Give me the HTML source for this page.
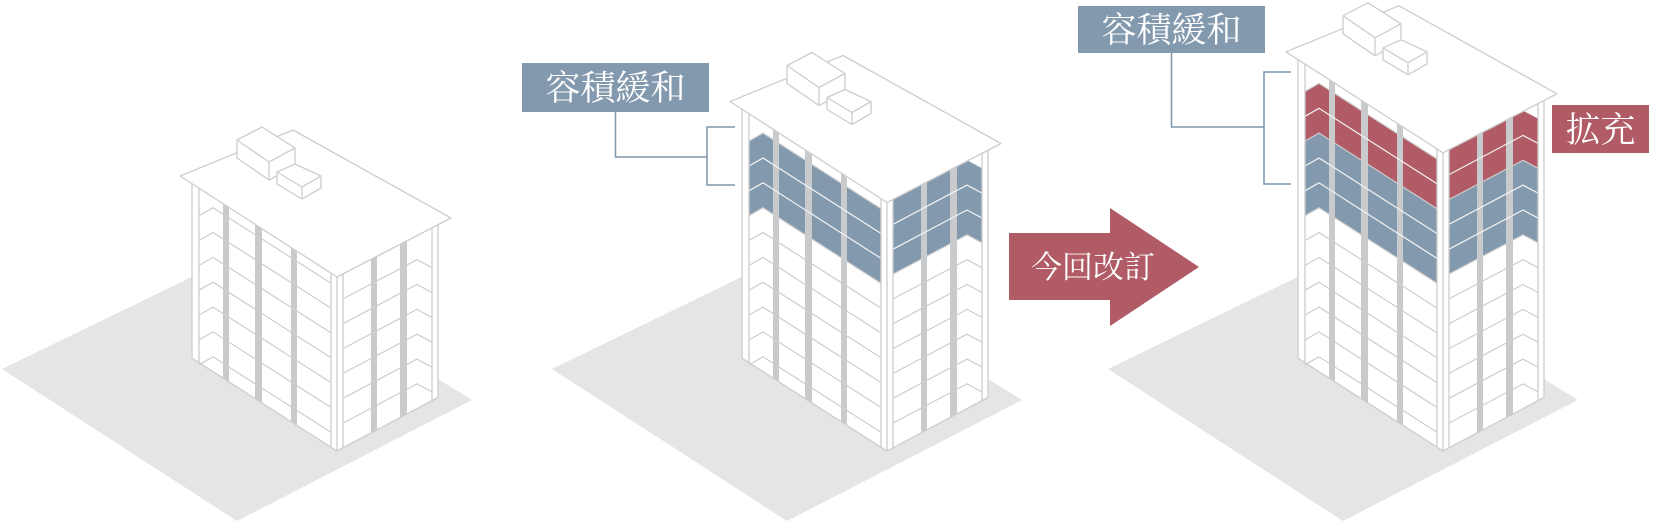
<!DOCTYPE html>
<html><head><meta charset="utf-8">
<style>
html,body{margin:0;padding:0;background:#fff;}
body{width:1656px;height:522px;overflow:hidden;}
svg{display:block;}
.lbl{font-family:"Liberation Serif","Noto Serif CJK SC","Noto Sans CJK JP",serif;fill:#fff;}
</style></head>
<body>
<svg id="s" width="1656" height="522" viewBox="0 0 1656 522" xmlns="http://www.w3.org/2000/svg">
<g id="g"></g>
<!-- labels -->
<rect x="522" y="63" width="187" height="49" fill="#8399ae"/>
<text class="lbl" x="615.5" y="100" font-size="35" text-anchor="middle">容積緩和</text>
<polyline points="615.5,112 615.5,157 707,157" fill="none" stroke="#7e96ab" stroke-width="1.5"/>
<polyline points="735,127 707,127 707,185 735,185" fill="none" stroke="#7e96ab" stroke-width="1.5"/>

<rect x="1078" y="6" width="187" height="47" fill="#8399ae"/>
<text class="lbl" x="1171.5" y="42" font-size="35" text-anchor="middle">容積緩和</text>
<polyline points="1171.5,53 1171.5,127 1264,127" fill="none" stroke="#7e96ab" stroke-width="1.5"/>
<polyline points="1291,72 1264,72 1264,184 1291,184" fill="none" stroke="#7e96ab" stroke-width="1.5"/>

<rect x="1552" y="105" width="97" height="48" fill="#b05b66"/>
<text class="lbl" x="1600.5" y="142" font-size="35" text-anchor="middle">拡充</text>

<polygon points="1009,233 1110,233 1110,208 1199,267 1110,326 1110,300 1009,300" fill="#b05b66"/>
<text class="lbl" x="1093" y="278" font-size="31" text-anchor="middle">今回改訂</text>
</svg>
<script>
(function(){
var out=[];
var ST='#cdcdcd', COL='#c9cacc', BLUE='#8399ae', RED='#b05b66';
function P(a){return a.map(function(p){return p[0].toFixed(1)+','+p[1].toFixed(1);}).join(' ');}
function poly(a,fill,stroke,sw){out.push('<polygon points="'+P(a)+'" fill="'+fill+'" stroke="'+(stroke||'none')+'" stroke-width="'+(sw||1.3)+'" stroke-linejoin="round"/>');}
function pl(a,stroke,sw){out.push('<polyline points="'+P(a)+'" fill="none" stroke="'+stroke+'" stroke-width="'+(sw||1.3)+'"/>');}
function bld(fx,n,bands){
  var B=451,h=24.85,T=B-n*h,sl=0.64,sr=0.53;
  // shadow
  poly([[fx-335,B-82],[fx-100,B-196],[fx+135,B-51],[fx-100,B+70]],'#e5e5e5');
  function Ly(k,x){return T+10+k*h-sl*(fx-x);}
  function Ry(k,x){return T-3+k*h-sr*(x-fx-6);}
  var xb=fx-124, xr=fx+80;
  function Lline(k){return [[fx-138,Ly(k,xb)+8],[xb,Ly(k,xb)],[fx-6,Ly(k,fx-6)]];}
  function Rline(k){return [[fx+6,Ry(k,fx+6)],[xr,Ry(k,xr)],[fx+95,Ry(k,xr)+8]];}
  // faces
  poly([[fx-145,T-sl*145],[fx,T],[fx,B],[fx-145,B-sl*145]],'#fff');
  poly([[fx,T],[fx+101,T-sr*101],[fx+101,B-sr*101],[fx,B]],'#fff');
  // bands
  bands.forEach(function(b){
    var a=Lline(b[0]), c=Lline(b[1]).reverse();
    poly(a.concat(c),b[2]);
    var r=Rline(b[0]), s=Rline(b[1]).reverse();
    poly(r.concat(s),b[2]);
  });
  // columns
  [[-114,-108],[-82,-75],[-46,-40]].forEach(function(c){
    var x1=fx+c[0],x2=fx+c[1];
    poly([[x1,T-sl*(fx-x1)],[x2,T-sl*(fx-x2)],[x2,B-sl*(fx-x2)],[x1,B-sl*(fx-x1)]],COL);
  });
  [[34,40],[63,70]].forEach(function(c){
    var x1=fx+c[0],x2=fx+c[1];
    poly([[x1,T-sr*(x1-fx)],[x2,T-sr*(x2-fx)],[x2,B-sr*(x2-fx)],[x1,B-sr*(x1-fx)]],COL);
  });
  // floor lines
  function inBand(k){for(var i=0;i<bands.length;i++){if(k>bands[i][0]&&k<bands[i][1])return true;}return false;}
  for(var k=0;k<n;k++){pl(Lline(k),inBand(k)?'#f4f4f4':ST,1.2);}
  for(var k=1;k<=n-1;k++){pl(Rline(k),inBand(k)?'#f4f4f4':ST,1.2);}
  // walls
  [-145,-138,-6,0].forEach(function(d){var x=fx+d;pl([[x,T-sl*(fx-x)],[x,B-sl*(fx-x)]],ST);});
  [6,95,101].forEach(function(d){var x=fx+d;pl([[x,T-sr*(x-fx)],[x,B-sr*(x-fx)]],ST);});
  pl([[fx-145,B-sl*145],[fx,B],[fx+101,B-sr*101]],ST);
  // roof
  poly([[fx-157,T-101],[fx-44,T-147],[fx+114,T-59],[fx,T]],'#fff',ST);
  // boxes
  function box(a,b,c,d,hh){
    function q(p,dy){return [fx+p[0],T+p[1]+(dy||0)];}
    poly([q(a),q(b),q(c),q(c,hh),q(d,hh),q(a,hh)],'#fff',ST);
    pl([q(a),q(d),q(c)],ST); pl([q(d),q(d,hh)],ST);
  }
  box([-100,-137],[-75,-150],[-42,-129],[-68,-115],18);
  box([-60,-105],[-42,-113],[-16,-101],[-35,-90],12);
}
bld(337,7,[]);
bld(887,10,[[0,3,BLUE]]);
bld(1443,12,[[2,5,BLUE],[0,2,RED]]);
document.getElementById('g').innerHTML=out.join('');
})();
</script>
</body></html>
